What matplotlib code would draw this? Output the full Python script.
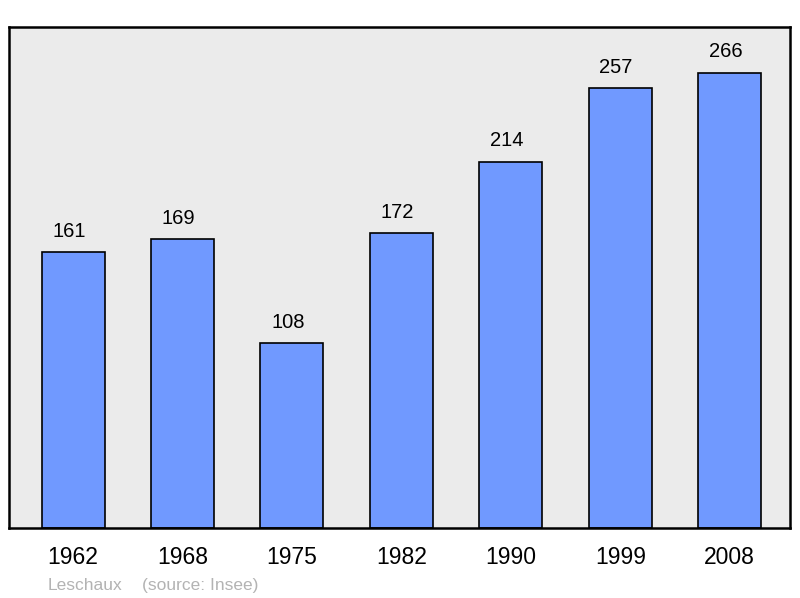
import matplotlib.pyplot as plt

plt.rcParams['font.family'] = ['Liberation Sans', 'DejaVu Sans']

# Population data
years = ['1962', '1968', '1975', '1982', '1990', '1999', '2008']
population = [161, 169, 108, 172, 214, 257, 266]

fig = plt.figure(figsize=(8, 5.98), dpi=100)
ax = fig.add_axes([9 / 800, 70 / 598, 781 / 800, 501 / 598])
ax.set_facecolor('#ebebeb')

x = range(len(years))
bars = ax.bar(x, population, width=0.575, color='#7099ff',
              edgecolor='black', linewidth=1.2)

# value labels sit slightly left of the bar centre, as in the original
for xi, val in zip(x, population):
    ax.annotate(str(val), (xi, val), xytext=(-3, 8), textcoords='offset points',
                ha='center', va='bottom', fontsize=14.5)

ax.set_xlim(-0.585, 6.55)
ax.set_ylim(0, max(population) * 1.1)
ax.set_yticks([])
ax.set_xticks(list(x))
ax.set_xticklabels(years, fontsize=16.5)
ax.tick_params(axis='x', length=0, pad=13)
for s in ax.spines.values():
    s.set_linewidth(1.8)

fig.text(48 / 800, 1 - 590 / 598, 'Leschaux', color='#b3b3b3', fontsize=12.5, va='baseline')
fig.text(142 / 800, 1 - 590 / 598, '(source: Insee)', color='#b3b3b3', fontsize=12.5, va='baseline')

fig.savefig('out.png', dpi=100)
